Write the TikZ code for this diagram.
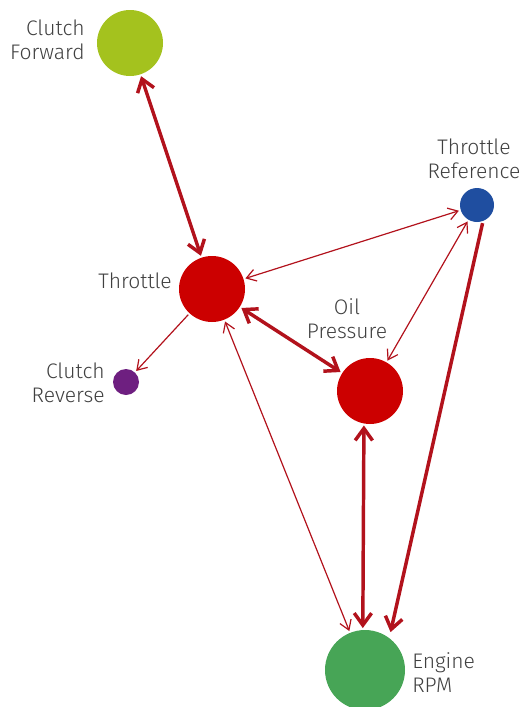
\documentclass[tikz,border=0pt]{standalone}
\usepackage{fontspec}
\setmainfont{Fira Sans Light}
\usetikzlibrary{arrows.meta}
\definecolor{fwdgreen}{RGB}{164,194,30}
\definecolor{hotred}{RGB}{204,0,0}
\definecolor{refblue}{RGB}{31,78,160}
\definecolor{revpurple}{RGB}{110,31,128}
\definecolor{rpmgreen}{RGB}{71,165,86}
\definecolor{linkred}{RGB}{178,18,28}
\definecolor{txtgray}{RGB}{64,64,64}
\tikzset{
  sensor/.style={circle, inner sep=0pt, outer sep=1.5pt},
  tag/.style={font=\fontsize{15.8}{18}\selectfont, text=txtgray, inner sep=0pt},
  weak/.style={draw=linkred, line width=0.9pt, >={Straight Barb[length=7pt,width=9pt]}},
  strong/.style={draw=linkred, line width=2.6pt, >={Straight Barb[length=9pt,width=13pt]}}
}

\begin{document}
\begin{tikzpicture}[x=0.75pt, y=-0.75pt]
  \useasboundingbox (0,0) rectangle (520,707);
  % sensors
  \node[sensor, fill=fwdgreen, minimum size=49.5pt] (cfwd) at (130,43) {};
  \node[sensor, fill=hotred, minimum size=49.5pt] (thr) at (212,289) {};
  \node[sensor, fill=refblue, minimum size=25.5pt] (tref) at (477,205) {};
  \node[sensor, fill=revpurple, minimum size=19.5pt] (crev) at (126,382) {};
  \node[sensor, fill=hotred, minimum size=49.5pt] (oil) at (370,391) {};
  \node[sensor, fill=rpmgreen, minimum size=60pt] (rpm) at (365,670) {};
  % names
  \node[tag, anchor=east, align=right] (cfwd-txt) at (85,40) {Clutch\\Forward};
  \node[tag, anchor=east] (thr-txt) at (172,281) {Throttle};
  \node[tag, align=center] (tref-txt) at (474,159) {Throttle\\Reference};
  \node[tag, align=center] (oil-txt) at (347,319) {Oil\\Pressure};
  \node[tag, anchor=east, align=right] (crev-txt) at (105,383) {Clutch\\Reverse};
  \node[tag, anchor=west, align=left] (rpm-txt) at (412,673) {Engine\\RPM};
  % links
  \draw[strong, <->] (cfwd) -- (thr);
  \draw[weak, <->] (thr) -- (tref);
  \draw[weak, ->] (thr) -- (crev);
  \draw[strong, <->] (thr) -- (oil);
  \draw[weak, <->] (thr) -- (rpm);
  \draw[weak, <->] (tref) -- (oil);
  \draw[strong, ->, shorten >=3pt] (tref.-73) -- (rpm.54);
  \draw[strong, <->] (oil.-100) -- (rpm.93);
\end{tikzpicture}
\end{document}
